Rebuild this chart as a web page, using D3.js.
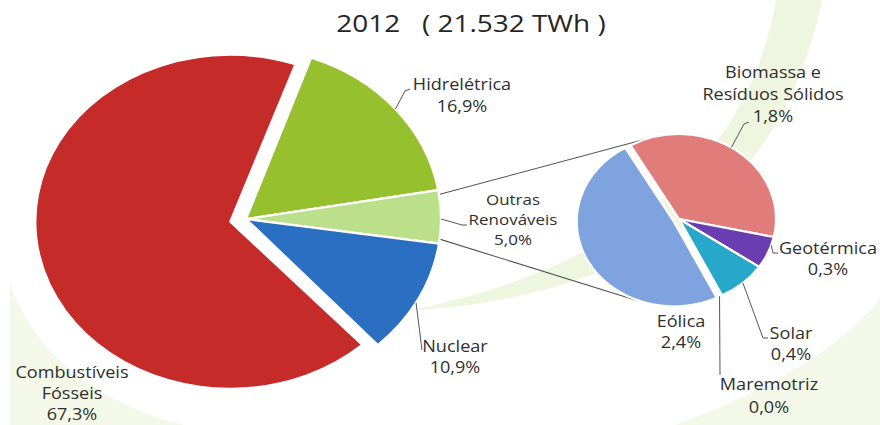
<!DOCTYPE html>
<html><head><meta charset="utf-8">
<script src="https://cdn.jsdelivr.net/npm/d3@7/dist/d3.min.js"></script>
<style>
html,body{margin:0;padding:0;background:#fff;}
svg{display:block;font-family:"Open Sans","Noto Sans",sans-serif;}
</style></head>
<body>
<svg id="chart" width="880" height="425"></svg>
<script>
// ---------- DATA ----------
const titleYear = "2012";
const titleTotal = "21.532 TWh";
const mainCategories = ["Hidrelétrica", "Outras Renováveis", "Nuclear", "Combustíveis Fósseis"];
const mainValues = [16.9, 5.0, 10.9, 67.3];
const subCategories = ["Biomassa e Resíduos Sólidos", "Geotérmica", "Solar", "Maremotriz", "Eólica"];
const subValues = [1.8, 0.3, 0.4, 0.0, 2.4];

// ---------- LAYOUT / STYLE ----------
const mainColors = ["#97c02f", "#bcdf8b", "#2b6fc2", "#c42b29"];
const subColors = ["#e07d7b", "#6a3db0", "#27a7ca", "#27a7ca", "#7fa3de"];
const mainLines = [["Hidrelétrica"], ["Outras", "Renováveis"], ["Nuclear"], ["Combustíveis", "Fósseis"]];
const subLines = [["Biomassa e", "Resíduos Sólidos"], ["Geotérmica"], ["Solar"], ["Maremotriz"], ["Eólica"]];
// [centre x, first baseline, line height, font size]
const mainLabelPos = [[462, 90, 21.7, 16], [513, 204.5, 20.5, 15], [455, 352, 21, 16], [72, 378, 21, 16]];
const subLabelPos = [[773, 78, 22, 16], [828, 254, 21, 16], [791, 339, 21, 16], [769, 390, 23, 16], [681, 327, 21, 16]];
const mainLeaders = [
  {a: 50, pts: [[405, 91], [410, 89]]},
  {a: 90, pts: [[462, 225], [467, 225]]},
  {a: 119.3, pts: [[422, 350]]},
  null
];
const subLeaders = [
  {a: 32.7, pts: [[744, 124], [749, 122]]},
  {a: 108, pts: [[773, 253], [778, 253]]},
  {a: 138.8, pts: [[763, 338], [768, 338]]},
  {a: 155.3, pts: [[720, 375]]},
  null
];

const M = {cx: 246, cy: 219, rx: 195, ry: 171, ryRed: 167, start: 19.5, explode: [0, 0, 0, 16]};
const S = {cx: 679, cy: 219, rx: 97, ry: 85, start: -30, explode: [0, 0, 0, 0, 6]};
const textColor = "#2f2f2f";
const lineColor = "#555";
const stretch = 1.13;

const rad = d => d * Math.PI / 180;
const fmt = v => d3.format(".1f")(v).replace(".", ",") + "%";
const svg = d3.select("#chart");

// ---------- background swooshes ----------
const bg = svg.append("g").attr("fill", "#eff6df");
bg.append("path").attr("d", "M405,311 C560,302 770,250 822,0 L776,0 C742,200 560,282 405,311 Z");
bg.append("path").attr("d", "M10,282 C30,352 105,408 185,425 L10,425 Z").attr("fill", "#f3f8e8");
bg.append("path").attr("d", "M675,425 C770,390 845,345 880,298 L880,425 Z").attr("fill", "#f3f8e8");

// ---------- pie helper ----------
function drawPie(cfg, values, colors, ryFor) {
  const pie = d3.pie().sort(null).value(d => d)
    .startAngle(rad(cfg.start)).endAngle(rad(cfg.start + 360));
  const arcs = pie(values);
  const arc = d3.arc().innerRadius(0).outerRadius(cfg.rx);
  const g = svg.append("g");
  arcs.forEach((d, i) => {
    if (d.endAngle - d.startAngle <= 0) return;
    const mid = (d.startAngle + d.endAngle) / 2;
    const off = cfg.explode[i];
    const ry = ryFor ? ryFor(i) : cfg.ry;
    const k = ry / cfg.rx;
    const dx = off * Math.sin(mid), dy = -off * Math.cos(mid) * k;
    g.append("path")
      .attr("transform", `translate(${cfg.cx + dx},${cfg.cy + dy}) scale(1,${k})`)
      .attr("d", arc(d))
      .attr("fill", colors[i])
      .attr("stroke", "#fff")
      .attr("stroke-width", 2.2)
      .attr("vector-effect", "non-scaling-stroke")
      .attr("stroke-linejoin", "round");
  });
  return arcs;
}
function ellPt(cfg, aDeg, ry) {
  const a = rad(aDeg);
  return [cfg.cx + cfg.rx * Math.sin(a), cfg.cy - (ry || cfg.ry) * Math.cos(a)];
}

// connector lines (drawn first)
const mainArcs = d3.pie().sort(null).value(d => d).startAngle(rad(M.start)).endAngle(rad(M.start + 360))(mainValues);
const o = mainArcs[1];
const p1 = ellPt(M, o.startAngle * 180 / Math.PI + 1.5);
const p2 = ellPt(M, o.endAngle * 180 / Math.PI - 1.5);
const q1 = ellPt(S, -19.3);
const eo = {cx: S.cx - 5, cy: S.cy + 3, rx: S.rx, ry: S.ry};
const q2 = ellPt(eo, 202);
svg.append("line").attr("x1", p1[0]).attr("y1", p1[1]).attr("x2", q1[0]).attr("y2", q1[1])
  .attr("stroke", lineColor).attr("stroke-width", 1.1);
svg.append("line").attr("x1", p2[0]).attr("y1", p2[1]).attr("x2", q2[0]).attr("y2", q2[1])
  .attr("stroke", lineColor).attr("stroke-width", 1.1);

drawPie(M, mainValues, mainColors, i => i === 3 ? M.ryRed : M.ry);
drawPie(S, subValues, subColors);

// leaders
function drawLeader(cfg, L) {
  if (!L) return;
  const s = ellPt(cfg, L.a);
  const pts = [s].concat(L.pts);
  svg.append("path").attr("d", d3.line()(pts))
    .attr("fill", "none").attr("stroke", lineColor).attr("stroke-width", 1);
}
mainLeaders.forEach(L => drawLeader(M, L));
subLeaders.forEach(L => drawLeader(S, L));

// labels
function drawLabel(lines, value, pos) {
  const [x, y, lh, fs] = pos;
  const all = lines.concat([fmt(value)]);
  const t = svg.append("text")
    .attr("transform", `translate(${x},${y}) scale(${stretch},1)`)
    .attr("text-anchor", "middle")
    .attr("fill", textColor)
    .attr("font-size", fs);
  all.forEach((s, i) => t.append("tspan").attr("x", 0).attr("y", i * lh).text(s));
}
mainCategories.forEach((c, i) => drawLabel(mainLines[i], mainValues[i], mainLabelPos[i]));
subCategories.forEach((c, i) => drawLabel(subLines[i], subValues[i], subLabelPos[i]));

// title
svg.append("text")
  .attr("transform", `translate(471,32) scale(1.14,1)`)
  .attr("text-anchor", "middle")
  .attr("fill", "#262626")
  .attr("font-size", 24.5)
  .attr("xml:space", "preserve")
  .style("white-space", "pre")
  .text(`${titleYear}   ( ${titleTotal} )`);
</script>
</body></html>
